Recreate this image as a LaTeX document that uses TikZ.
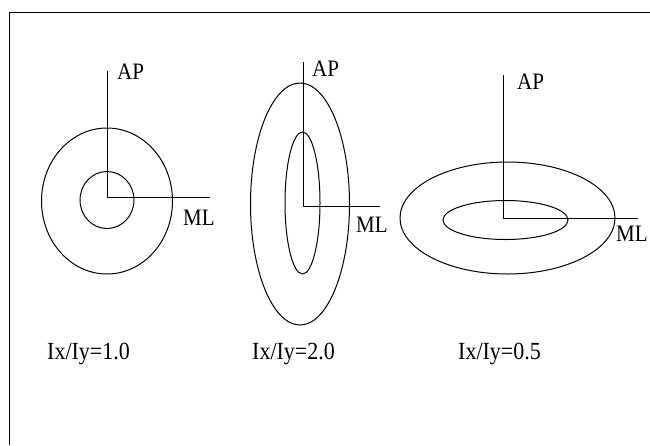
\documentclass[tikz,border=0pt]{standalone}
\usepackage{fontspec}
\setmainfont{Liberation Serif}
\usetikzlibrary{positioning}

\newcommand{\tall}[1]{\scalebox{1}[1.12]{#1}}

\begin{document}
\begin{tikzpicture}[x=1pt, y=-1pt,
    axis/.style={line width=0.9pt},
    ring/.style={line width=1pt},
    axlbl/.style={inner sep=0pt, anchor=base west, font=\fontsize{21}{21}\selectfont},
    ratio/.style={inner sep=0pt, anchor=base west, font=\fontsize{22}{22}\selectfont}
]
\useasboundingbox (0,0) rectangle (650,445);
% frame
\draw[axis] (9,445) -- (9,12) -- (650,12);

% Ix/Iy = 1.0
\coordinate (o1) at (107,197);
\coordinate (ap1) at (107,71);
\coordinate (ml1) at (210,197);
\draw[axis] (ap1) -- (o1) -- (ml1);
\draw[ring] (107,201) ellipse [x radius=65.5, y radius=73];
\draw[ring] (107,200) ellipse [x radius=27, y radius=28.5];
\node[axlbl] (lap1) at (117,79) {\tall{AP}};
\node[axlbl] (lml1) at (183,225) {\tall{ML}};
\node[ratio] (r1) at (47,359) {\tall{Ix/Iy=1.0}};

% Ix/Iy = 2.0
\coordinate (o2) at (303,206);
\coordinate (ap2) at (303,62);
\coordinate (ml2) at (380,206);
\draw[axis] (ap2) -- (o2) -- (ml2);
\draw[ring] (300,204) ellipse [x radius=49.5, y radius=121];
\draw[ring] (302.5,203) ellipse [x radius=17.5, y radius=71];
\node[axlbl] (lap2) at (312,76) {\tall{AP}};
\node[axlbl] (lml2) at (356,232) {\tall{ML}};
\node[ratio] (r2) at (252,359) {\tall{Ix/Iy=2.0}};

% Ix/Iy = 0.5
\coordinate (o3) at (503,218);
\coordinate (ap3) at (503,75);
\coordinate (ml3) at (638,218);
\draw[axis] (ap3) -- (o3) -- (ml3);
\draw[ring] (507.5,218) ellipse [x radius=107.5, y radius=56];
\draw[ring] (505.5,220) ellipse [x radius=62.5, y radius=19.5];
\node[axlbl] (lap3) at (517,89) {\tall{AP}};
\node[axlbl] (lml3) at (616,241) {\tall{ML}};
\node[ratio] (r3) at (458,359) {\tall{Ix/Iy=0.5}};
\end{tikzpicture}
\end{document}
